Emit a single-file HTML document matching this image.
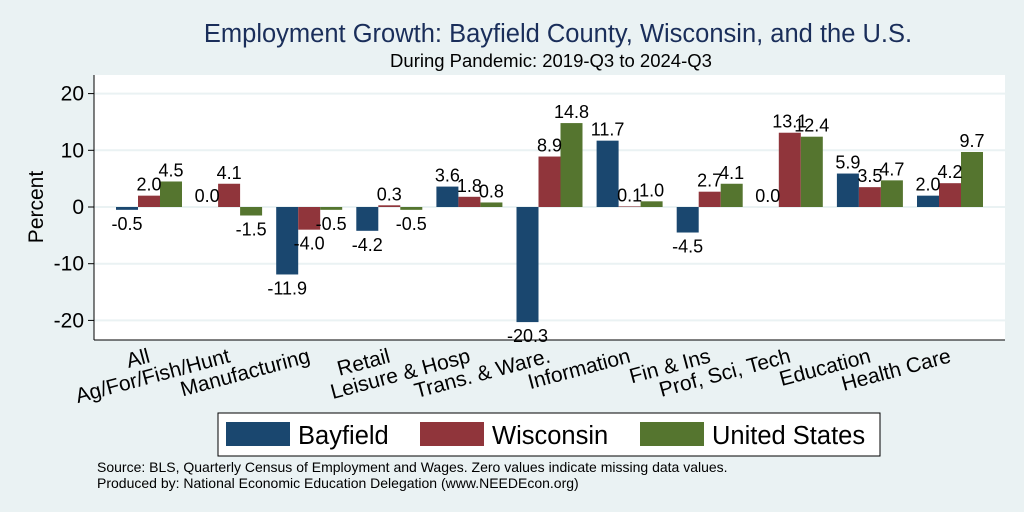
<!DOCTYPE html>
<html><head><meta charset="utf-8"><style>
html,body{margin:0;padding:0;background:#eaf2f3;}
svg{display:block;font-family:"Liberation Sans",Arial,sans-serif;}
</style></head><body>
<svg id="chart" width="1024" height="512" viewBox="0 0 1024 512">
<rect x="0" y="0" width="1024" height="512" fill="#eaf2f3"/>
<rect x="94" y="75" width="911" height="265" fill="#ffffff"/>
<text x="558" y="42" text-anchor="middle" font-size="25.5" fill="#1a2e5a">Employment Growth: Bayfield County, Wisconsin, and the U.S.</text>
<text x="551" y="67" text-anchor="middle" font-size="18.5" fill="#000">During Pandemic: 2019-Q3 to 2024-Q3</text>
<text transform="translate(43,207) rotate(-90)" text-anchor="middle" font-size="21" fill="#000">Percent</text>
<g id="grid"></g>
<g id="bars"></g>
<g id="labels"></g>
<line x1="94" y1="75" x2="94" y2="340" stroke="#000" stroke-width="1"/>
<line x1="94" y1="340" x2="1005" y2="340" stroke="#000" stroke-width="1"/>
<g id="xcats"></g>
<g>
<rect x="218" y="413" width="662" height="43" fill="#fff" stroke="#000" stroke-width="1"/>
<rect x="226" y="422" width="64" height="24" fill="#1a476f"/>
<text x="298" y="444" font-size="25.5">Bayfield</text>
<rect x="420" y="422" width="64" height="24" fill="#90353b"/>
<text x="492" y="444" font-size="25.5">Wisconsin</text>
<rect x="640" y="422" width="64" height="24" fill="#55752f"/>
<text x="712" y="444" font-size="25.5">United States</text>
</g>
<text x="97" y="472" font-size="14">Source: BLS, Quarterly Census of Employment and Wages. Zero values indicate missing data values.</text>
<text x="97" y="488" font-size="14">Produced by: National Economic Education Delegation (www.NEEDEcon.org)</text>
</svg>
<script>
const categories = ["All","Ag/For/Fish/Hunt","Manufacturing","Retail","Leisure & Hosp","Trans. & Ware.","Information","Fin & Ins","Prof, Sci, Tech","Education","Health Care"];
const bayfield = [-0.5,0.0,-11.9,-4.2,3.6,-20.3,11.7,-4.5,0.0,5.9,2.0];
const wisconsin = [2.0,4.1,-4.0,0.3,1.8,8.9,0.1,2.7,13.1,3.5,4.2];
const unitedStates = [4.5,-1.5,-0.5,-0.5,0.8,14.8,1.0,4.1,12.4,4.7,9.7];
const yTicks = [-20,-10,0,10,20];

const NS="http://www.w3.org/2000/svg";
const y = v => 207 - v*5.67;
const cx = i => 149 + i*80.1;
const bw = 22;
function mk(tag, attrs, parent){const e=document.createElementNS(NS,tag);for(const k in attrs)e.setAttribute(k,attrs[k]);parent.appendChild(e);return e;}
const grid=document.getElementById('grid'),bars=document.getElementById('bars'),labels=document.getElementById('labels'),xc=document.getElementById('xcats');
yTicks.forEach(t=>{
  const l=mk('line',{x1:94,x2:1005,y1:y(t),y2:y(t),stroke:'#eaf2f3','stroke-width':2},grid);
  
  
  const tk=mk('line',{x1:88,x2:94,y1:y(t),y2:y(t),stroke:'#000'},grid);
  
  
  const tx=mk('text',{x:84,y:y(t)+7,'text-anchor':'end','font-size':21},grid);
  tx.textContent=t;
  
  
});
const series=[[bayfield,'#1a476f','bayfield'],[wisconsin,'#90353b','wisconsin'],[unitedStates,'#55752f','us']];
categories.forEach((c,i)=>{
  series.forEach((s,j)=>{
    const v=s[0][i];const x=cx(i)-33+j*bw;
    const top=Math.min(y(v),y(0)),h=Math.abs(y(v)-y(0));
    const r=mk('rect',{x:x,y:top,width:bw,height:Math.max(h,0.01),fill:s[1]},bars);
    
    
    const t=mk('text',{x:x+bw/2,y:v>=0?y(v)-5:y(v)+20,'text-anchor':'middle','font-size':18},labels);
    t.textContent=v.toFixed(1);
    
    
  });
  const t=mk('text',{'text-anchor':'end','font-size':21,transform:'translate('+(cx(i)+2)+',362) rotate(-15)'},xc);
  t.textContent=c;
  
  
});
</script>
</body></html>
